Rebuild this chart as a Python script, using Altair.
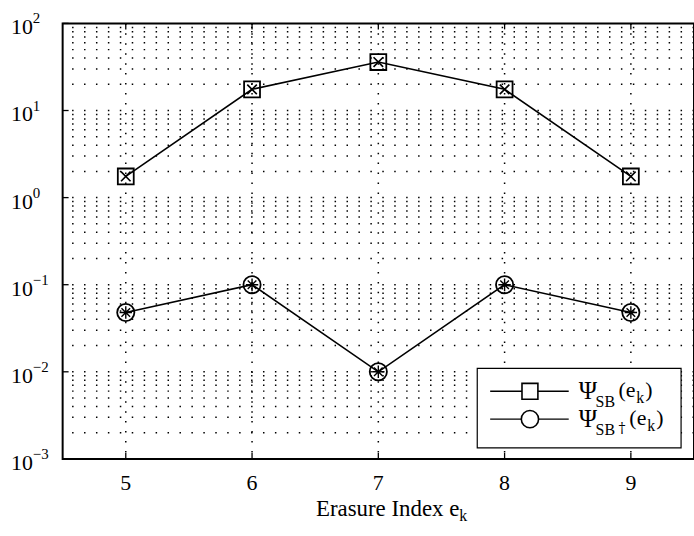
import altair as alt
import pandas as pd

# ---- data ----
erasure_index = [5, 6, 7, 8, 9]
psi_sb = [1.75, 17.5, 36.0, 17.5, 1.75]
psi_sb_dagger = [0.048, 0.1, 0.01, 0.1, 0.048]
x_ticks = [5, 6, 7, 8, 9]
decades = [-3, -2, -1, 0, 1, 2]
exp_labels = ["\u22123", "\u22122", "\u22121", "0", "1", "2"]

W, H = 635, 438
FONT = "Liberation Serif, DejaVu Serif, serif"

xs = alt.Scale(domain=[4.5, 9.5], nice=False, zero=False)
ys = alt.Scale(type="log", domain=[1e-3, 1e2], nice=False)

series = pd.DataFrame({
    "e": erasure_index * 2,
    "psi": psi_sb + psi_sb_dagger,
    "s": ["SB"] * 5 + ["SBd"] * 5,
})
sb = series[series.s == "SB"]
sbd = series[series.s == "SBd"]

minor_vals = [m * 10.0 ** k for k in range(-3, 2) for m in range(1, 10)][1:]
hgrid_df = pd.DataFrame({"v": minor_vals})
vgrid_df = pd.DataFrame({"x": x_ticks})
dec_df = pd.DataFrame({"v": [10.0 ** d for d in decades], "exp": exp_labels})
one = pd.DataFrame({"a": [0]})

X = alt.X("e:Q", scale=xs, axis=None)
Y = alt.Y("psi:Q", scale=ys, axis=None)


def label(text, x, y, size, align="left", font=FONT):
    return alt.Chart(one).mark_text(font=font, fontSize=size, align=align, baseline="middle",
                                    color="black").encode(
        x=alt.value(x), y=alt.value(y), text=alt.value(text))


# dotted grid
hgrid = alt.Chart(hgrid_df).mark_rule(color="black", strokeWidth=1.5, strokeDash=[1.5, 10.5]).encode(
    y=alt.Y("v:Q", scale=ys, axis=None))
vgrid = alt.Chart(vgrid_df).mark_rule(color="black", strokeWidth=1.5, strokeDash=[1.5, 8.5]).encode(
    x=alt.X("x:Q", scale=xs, axis=None))

# inward ticks
tick_b = alt.Chart(vgrid_df).mark_rule(color="black", strokeWidth=1.3).encode(
    x=alt.X("x:Q", scale=xs, axis=None), y=alt.value(H), y2=alt.value(H - 6))
tick_t = alt.Chart(vgrid_df).mark_rule(color="black", strokeWidth=1.3).encode(
    x=alt.X("x:Q", scale=xs, axis=None), y=alt.value(0), y2=alt.value(6))
tick_l = alt.Chart(dec_df).mark_rule(color="black", strokeWidth=1.3).encode(
    y=alt.Y("v:Q", scale=ys, axis=None), x=alt.value(0), x2=alt.value(6))

# tick labels
ylab10 = alt.Chart(dec_df).mark_text(font=FONT, fontSize=22, align="right", baseline="middle", dy=4,
                                     color="black").encode(
    y=alt.Y("v:Q", scale=ys, axis=None), x=alt.value(-30), text=alt.value("10"))
ylabexp = alt.Chart(dec_df).mark_text(font=FONT, fontSize=15, align="left", baseline="middle", dy=-5,
                                      color="black").encode(
    y=alt.Y("v:Q", scale=ys, axis=None), x=alt.value(-30), text="exp:N")
xlab = alt.Chart(vgrid_df).mark_text(font=FONT, fontSize=22, baseline="middle", color="black").encode(
    x=alt.X("x:Q", scale=xs, axis=None), y=alt.value(H + 24), text="x:N")

# x title with subscript
xtitle = label("Erasure Index e", 399, H + 50, 23, align="right")
xtitle_k = label("k", 399, H + 57, 16)

# series
line_sb = alt.Chart(sb).mark_line(color="black", strokeWidth=1.6).encode(x=X, y=Y)
line_sbd = alt.Chart(sbd).mark_line(color="black", strokeWidth=1.6).encode(x=X, y=Y)

XPATH = "M-0.6,-0.6L0.6,0.6M-0.6,0.6L0.6,-0.6"
STAR = "M-0.5,-0.5L0.5,0.5M-0.5,0.5L0.5,-0.5M0,-0.72L0,0.72M-0.72,0L0.72,0"

sq = alt.Chart(sb).mark_point(shape="square", size=256, filled=False, color="black",
                              strokeWidth=1.8, opacity=1).encode(x=X, y=Y)
sqx = alt.Chart(sb).mark_point(shape=XPATH, size=256, filled=False, color="black",
                               strokeWidth=1.6, opacity=1).encode(x=X, y=Y)
ci = alt.Chart(sbd).mark_point(shape="circle", size=300, filled=False, color="black",
                               strokeWidth=1.8, opacity=1).encode(x=X, y=Y)
cistar = alt.Chart(sbd).mark_point(shape=STAR, size=300, filled=False, color="black",
                                   strokeWidth=1.4, opacity=1).encode(x=X, y=Y)

# legend box
LX0, LX1, LY0, LY1 = 417, 622, 347, 427
R1, R2 = 370, 398
leg_box = alt.Chart(one).mark_rect(fill="white", stroke="black", strokeWidth=1.2).encode(
    x=alt.value(LX0), x2=alt.value(LX1), y=alt.value(LY0), y2=alt.value(LY1))
leg_layers = [leg_box]
for ry, shape, px in [(R1, "square", 559), (R2, "circle", 570)]:
    leg_layers.append(alt.Chart(one).mark_rule(color="black", strokeWidth=1.4).encode(
        x=alt.value(430), x2=alt.value(509), y=alt.value(ry)))
    leg_layers.append(alt.Chart(one).mark_point(shape=shape, size=256 if shape == "square" else 300,
                                                filled=True, fill="white", stroke="black",
                                                strokeWidth=1.6, opacity=1).encode(
        x=alt.value(470), y=alt.value(ry)))
    leg_layers.append(label("\u03a8", 519, ry, 25))
    leg_layers.append(label("SB", 536, ry + 11, 16))
    if shape == "circle":
        leg_layers.append(label("\u2020", 559, ry + 10, 14, font="DejaVu Serif"))
    leg_layers.append(label("(e", px, ry - 1, 22))
    leg_layers.append(label("k", px + 18, ry + 7, 16))
    leg_layers.append(label(")", px + 27, ry - 1, 22))

chart = alt.layer(
    hgrid, vgrid, tick_b, tick_t, tick_l,
    line_sb, line_sbd, sq, sqx, ci, cistar,
    ylab10, ylabexp, xlab, xtitle, xtitle_k,
    *leg_layers,
).properties(
    width=W, height=H,
    autosize=alt.AutoSizeParams(type="none"),
    padding={"left": 63, "top": 22, "right": 0, "bottom": 76},
).configure_view(stroke="black", strokeWidth=2)

chart.save("out.html", embed_options={"renderer": "svg", "actions": False})
